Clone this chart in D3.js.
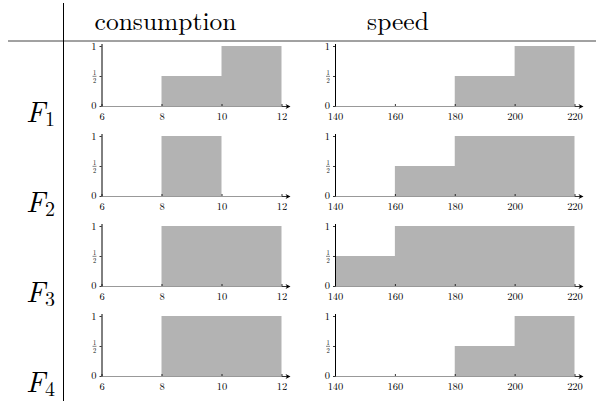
<!DOCTYPE html>
<html><head><meta charset="utf-8">
<script src="https://cdn.jsdelivr.net/npm/d3@7"></script>
<style>body{margin:0;background:#fff}svg{display:block}</style>
</head><body>
<svg id="c" width="596" height="401"></svg>
<script>
const columnTitles = ["consumption", "speed"];
const rowLabels = ["1", "2", "3", "4"];
const consBreaks = [6, 8, 10, 12];
const speedBreaks = [140, 160, 180, 200, 220];
const consValues = [
  [0, 0.5, 1],
  [0, 1, 0],
  [0, 1, 1],
  [0, 1, 1]
];
const speedValues = [
  [0, 0, 0.5, 1],
  [0, 0.5, 1, 1],
  [0.5, 1, 1, 1],
  [0, 0, 0.5, 1]
];
const consTicks = [6, 8, 10, 12];
const speedTicks = [140, 160, 180, 200, 220];
const yTicks = [0, 0.5, 1];

const FONT = "Latin Modern Roman";
const svg = d3.select("#c");
const barColor = "#b3b3b3";

svg.append("line").attr("x1", 8).attr("x2", 596).attr("y1", 41).attr("y2", 41)
  .attr("stroke", "#444").attr("stroke-width", 1);
svg.append("line").attr("x1", 63.5).attr("x2", 63.5).attr("y1", 3).attr("y2", 401)
  .attr("stroke", "#000").attr("stroke-width", 1);

const headerX = [165.5, 398];
columnTitles.forEach((t, i) => {
  svg.append("text").attr("x", headerX[i]).attr("y", 29.5)
    .attr("text-anchor", "middle").attr("font-family", FONT)
    .attr("font-size", 25.5).attr("fill", "#000").text(t);
});

const panels = [
  {breaks: consBreaks, values: consValues, ticks: consTicks, range: [101.5, 281.5]},
  {breaks: speedBreaks, values: speedValues, ticks: speedTicks, range: [335, 574.5]}
];

const rowY0 = r => 106 + r * 90;

rowLabels.forEach((lab, r) => {
  const y0 = rowY0(r);
  const y = d3.scaleLinear().domain([0, 1]).range([y0, y0 - 60]);
  const t = svg.append("text").attr("x", 26).attr("y", y0 + 16)
    .attr("font-family", FONT).attr("font-size", 29).attr("fill", "#000");
  t.append("tspan").attr("font-style", "italic").text("F");
  t.append("tspan").attr("font-size", 20).attr("dy", 4).attr("dx", 0).text(lab);

  panels.forEach(p => {
    const x = d3.scaleLinear().domain([p.breaks[0], p.breaks[p.breaks.length - 1]]).range(p.range);
    const g = svg.append("g");
    const bars = p.values[r].map((v, i) => ({x0: p.breaks[i], x1: p.breaks[i + 1], v}));
    const area = d3.area().curve(d3.curveStepAfter)
      .x(d => x(d.x)).y0(y(0)).y1(d => y(d.v));
    const pts = bars.map(d => ({x: d.x0, v: d.v}));
    pts.push({x: bars[bars.length - 1].x1, v: bars[bars.length - 1].v});
    g.append("path").attr("d", area(pts)).attr("fill", barColor);

    const xa = g.append("g").attr("transform", `translate(0,${y0})`)
      .call(d3.axisBottom(x).tickValues(p.ticks).tickSize(-2).tickPadding(7).tickSizeOuter(0).tickFormat(d3.format("d")));
    xa.attr("font-family", FONT);
    xa.select(".domain").remove();
    xa.selectAll(".tick line").attr("stroke", "#000").attr("stroke-width", 0.8);
    xa.selectAll("text").attr("font-family", FONT).attr("font-size", 10.5).attr("fill", "#000");
    const xEnd = p.range[1];
    g.append("line").attr("x1", p.range[0]).attr("x2", xEnd).attr("y1", y0 + 0.5).attr("y2", y0 + 0.5)
      .attr("stroke", "#999").attr("stroke-width", 1);
    g.append("line").attr("x1", xEnd).attr("x2", xEnd + 6).attr("y1", y0 + 0.5).attr("y2", y0 + 0.5)
      .attr("stroke", "#000").attr("stroke-width", 0.8);
    g.append("path")
      .attr("d", `M${xEnd + 9},${y0 + 0.5} L${xEnd + 4},${y0 - 2} L${xEnd + 5.5},${y0 + 0.5} L${xEnd + 4},${y0 + 3} Z`)
      .attr("fill", "#000");

    const ya = g.append("g").attr("transform", `translate(${p.range[0]},0)`)
      .call(d3.axisLeft(y).tickValues(yTicks).tickSize(2).tickPadding(3).tickSizeOuter(0).tickFormat(d => d === 0.5 ? "" : d3.format("d")(d)));
    ya.attr("font-family", FONT);
    ya.select(".domain").remove();
    ya.selectAll(".tick line").attr("stroke", "#000").attr("stroke-width", 0.8);
    ya.selectAll(".tick").filter(d => d === 0.5).select("text").remove();
    ya.selectAll("text").attr("font-family", FONT).attr("font-size", 10.5).attr("fill", "#000");
    ya.selectAll(".tick").filter(d => d === 0).select("text").attr("dy", "0.2em");
    g.append("line").attr("x1", p.range[0] + 0.5).attr("x2", p.range[0] + 0.5)
      .attr("y1", y0 + 0.5).attr("y2", y(1) - 2).attr("stroke", "#000").attr("stroke-width", 1);
    const hy = y(0.5);
    const hx = p.range[0] - 7;
    g.append("text").attr("x", hx).attr("y", hy - 1.2).attr("text-anchor", "middle")
      .attr("font-family", FONT).attr("font-size", 6.5).text("1");
    g.append("line").attr("x1", hx - 2).attr("x2", hx + 2).attr("y1", hy + 0.3).attr("y2", hy + 0.3)
      .attr("stroke", "#000").attr("stroke-width", 0.5);
    g.append("text").attr("x", hx).attr("y", hy + 6.8).attr("text-anchor", "middle")
      .attr("font-family", FONT).attr("font-size", 6.5).text("2");
  });
});
</script>
</body></html>
